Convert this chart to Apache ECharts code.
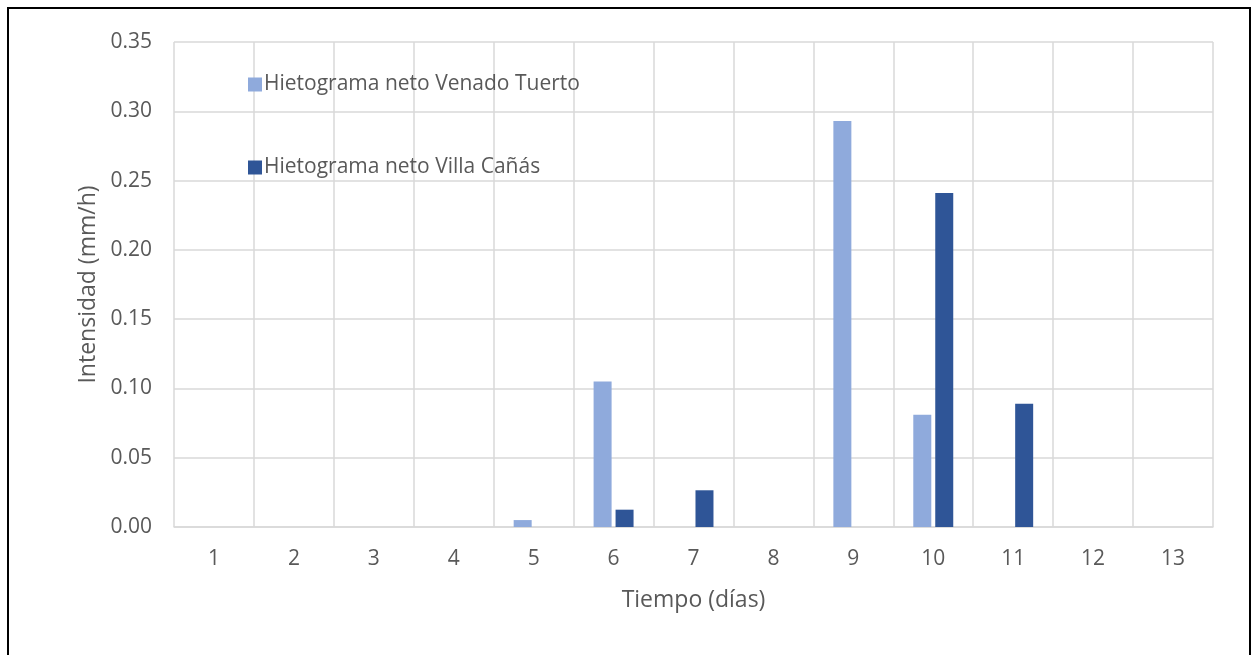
<!DOCTYPE html>
<html><head><meta charset="utf-8">
<script src="https://cdn.jsdelivr.net/npm/echarts@6/dist/echarts.min.js"></script>
<style>html,body{margin:0;padding:0;background:#fff}#c{width:1252px;height:655px}</style>
</head><body><div id="c"></div>
<script>
const categories = ['1','2','3','4','5','6','7','8','9','10','11','12','13'];
const venadoTuerto = [0,0,0,0,0.005,0.105,0,0,0.293,0.081,0,0,0];
const villaCanas = [0,0,0,0,0,0.0125,0.0265,0,0,0.241,0.089,0,0];
const seriesNames = ['Hietograma neto Venado Tuerto','Hietograma neto Villa Cañás'];
const font = '"Open Sans", "Noto Sans", sans-serif';
const chart = echarts.init(document.getElementById('c'));
chart.setOption({
  animation:false,
  graphic:[{type:'rect',shape:{x:8,y:8,width:1242,height:700},style:{fill:'none',stroke:'#000',lineWidth:2}}],
  grid:{left:174,right:39,top:42,bottom:128},
  legend:{orient:'vertical',left:243,top:69,itemWidth:14,itemHeight:14,itemGap:62,icon:'rect',
    textStyle:{fontFamily:font,fontSize:21,color:'#595959',padding:[0,0,0,-3]},data:seriesNames},
  xAxis:{type:'category',data:categories,
    axisLine:{lineStyle:{color:'#d9d9d9',width:1.5}},axisTick:{show:false},
    splitLine:{show:true,lineStyle:{color:'#d9d9d9',width:1.5}},
    axisLabel:{fontFamily:font,fontSize:21,color:'#595959',margin:22},
    name:'Tiempo (días)',nameLocation:'middle',nameGap:62,
    nameTextStyle:{fontFamily:font,fontSize:23,color:'#595959'}},
  yAxis:{type:'value',min:0,max:0.35,interval:0.05,
    axisLine:{show:false},axisTick:{show:false},
    splitLine:{lineStyle:{color:'#d9d9d9',width:1.5}},
    axisLabel:{fontFamily:font,fontSize:21,color:'#595959',margin:22,formatter:v=>v.toFixed(2)},
    name:'Intensidad (mm/h)',nameLocation:'middle',nameGap:73,
    nameTextStyle:{fontFamily:font,fontSize:23,color:'#595959'}},
  series:[
    {name:seriesNames[0],type:'bar',data:venadoTuerto,barWidth:18,barGap:'22%',
     itemStyle:{color:'#8faadc'}},
    {name:seriesNames[1],type:'bar',data:villaCanas,barWidth:18,
     itemStyle:{color:'#2f5597'}}
  ]
});
</script></body></html>
